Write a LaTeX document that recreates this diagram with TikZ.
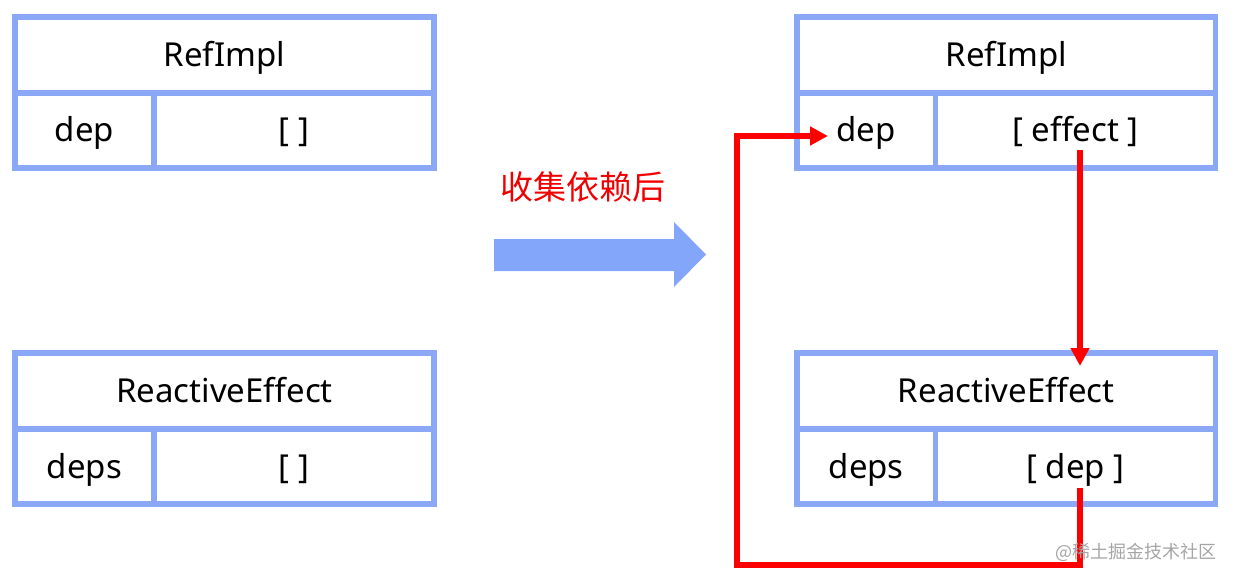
\documentclass[tikz,border=0pt]{standalone}
\usepackage{fontspec}
\setmainfont{Noto Sans}
\newfontfamily\cjk{Noto Sans CJK SC}
\usetikzlibrary{arrows.meta}
\definecolor{boxblue}{RGB}{138,168,246}
\definecolor{arrowblue}{RGB}{132,166,250}
\definecolor{wm}{RGB}{165,165,165}
\tikzset{
  cell/.style={draw=boxblue, line width=5.5pt, rectangle, inner sep=0pt, outer sep=0pt,
    font=\fontsize{33}{36}\selectfont, text=black, text height=23pt, text depth=0pt},
  titlecell/.style={cell, minimum width=419pt, minimum height=76pt},
  keycell/.style={cell, minimum width=139pt, minimum height=75pt},
  valcell/.style={cell, minimum width=280pt, minimum height=75pt},
  redlink/.style={draw={rgb,255:red,255;green,0;blue,0}, line width=6pt,
    -{Triangle[length=18pt,width=18pt]}},
}
\begin{document}
\begin{tikzpicture}[x=1pt,y=-1pt]
\useasboundingbox (0,0) rectangle (1236,580);
% left RefImpl
\node[titlecell] (lrt) at (224.5,55) {RefImpl};
\node[keycell] (lrk) at (84.5,130.5) {dep};
\node[valcell] (lrv) at (294,130.5) {[ ]};
% left ReactiveEffect
\node[titlecell] (let) at (224.5,391) {ReactiveEffect};
\node[keycell] (lek) at (84.5,466.5) {deps};
\node[valcell] (lev) at (294,466.5) {[ ]};
% right RefImpl
\node[titlecell, minimum width=418.5pt] (rrt) at (1006.25,55) {RefImpl};
\node[keycell, minimum width=138.5pt] (rrk) at (866.25,130.5) {dep};
\node[valcell] (rrv) at (1075.5,130.5) {[ effect ]};
% right ReactiveEffect
\node[titlecell, minimum width=418.5pt] (ret) at (1006.25,391) {ReactiveEffect};
\node[keycell, minimum width=138.5pt] (rek) at (866.25,466.5) {deps};
\node[valcell] (rev) at (1075.5,466.5) {[ dep ]};
% middle label and big arrow
\node[text={rgb,255:red,240;green,0;blue,0}, font=\cjk\fontsize{33}{36}\selectfont] (lbl) at (583,187) {收集依赖后};
\fill[arrowblue] (494,239) -- (674,239) -- (674,222) -- (706,254.5) -- (674,287) -- (674,271) -- (494,271) -- cycle;
% red connectors
\coordinate (effS) at (1080,150);
\coordinate (effT) at (1080,366);
\coordinate (depS) at (1080,488);
\coordinate (c1) at (1080,565);
\coordinate (c2) at (736.5,565);
\coordinate (c3) at (736.5,136);
\coordinate (depT) at (828,136);
\draw[redlink] (effS) -- (effT);
\draw[redlink] (depS) -- (c1) -- (c2) -- (c3) -- (depT);
% watermark
\node[text=wm, font=\cjk\fontsize{18}{20}\selectfont, anchor=east, inner sep=0pt] (wmk) at (1217,552) {@稀土掘金技术社区};
\end{tikzpicture}
\end{document}
